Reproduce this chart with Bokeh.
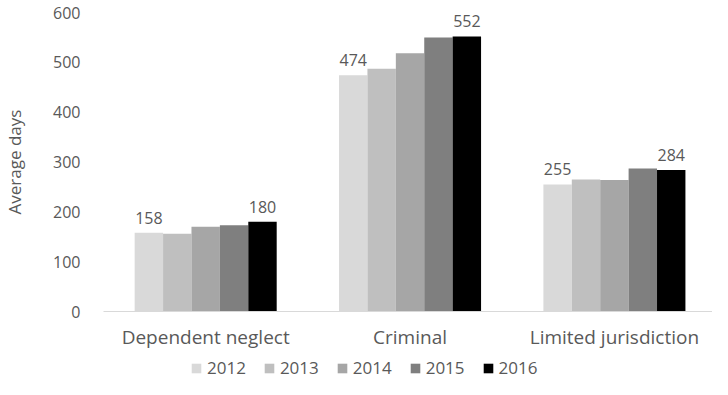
from bokeh.plotting import figure
from bokeh.layouts import column
from bokeh.models import Range1d, FixedTicker, Legend, LegendItem, ColumnDataSource
from bokeh.core.properties import value
from bokeh.embed import file_html
from bokeh.resources import INLINE

categories = ["Dependent neglect", "Criminal", "Limited jurisdiction"]
years = ["2012", "2013", "2014", "2015", "2016"]
v2012 = [158, 474, 255]
v2013 = [156, 487, 265]
v2014 = [170, 518, 264]
v2015 = [173, 550, 287]
v2016 = [180, 552, 284]
y_ticks = [0, 100, 200, 300, 400, 500, 600]

series = [v2012, v2013, v2014, v2015, v2016]
colors = ["#d9d9d9", "#bfbfbf", "#a6a6a6", "#7f7f7f", "#000000"]
labelled = {"2012", "2016"}

FONT = "Open Sans"
TXT = "#595959"

p = figure(width=712, height=352, output_backend="svg", toolbar_location=None,
           x_range=Range1d(0, 2.98), y_range=Range1d(0, 600))
p.min_border_left = 90
p.min_border_right = 0
p.min_border_top = 12
p.min_border_bottom = 40
p.outline_line_color = None
p.xgrid.visible = False
p.ygrid.visible = False
p.background_fill_color = "white"
p.border_fill_color = "white"

# strip below the chart that carries the legend
lg = figure(width=712, height=27, output_backend="svg", toolbar_location=None,
            x_range=Range1d(0, 2.98), y_range=Range1d(0, 600),
            x_axis_location=None, y_axis_location=None)
lg.min_border = 0
lg.outline_line_color = None
lg.xgrid.visible = False
lg.ygrid.visible = False
lg.border_fill_color = "white"
lg.background_fill_color = "white"

bw = 0.139
items = []
for i, (yr, vals, col) in enumerate(zip(years, series, colors)):
    xs = [k + 0.5 + (i - 2) * bw for k in range(len(categories))]
    src = ColumnDataSource(dict(x=xs, top=vals, lab=[str(v) for v in vals]))
    p.vbar(x="x", top="top", width=bw, source=src, fill_color=col, line_color=None)
    if yr in labelled:
        p.text(x="x", y="top", text="lab", source=src, text_font=value(FONT),
               text_font_size="16px", text_color=TXT, text_align="center",
               text_baseline="alphabetic", y_offset=-15)
    # zero-height bars: only supply the legend swatch colour
    r = lg.vbar(x="x", top="top", bottom="top", width=bw, source=src,
                fill_color=col, line_color=None)
    items.append(LegendItem(label=yr, renderers=[r]))

# x axis
xa = p.xaxis[0]
xa.ticker = FixedTicker(ticks=[k + 0.5 for k in range(len(categories))])
xa.major_label_overrides = {k + 0.5: c for k, c in enumerate(categories)}
xa.axis_line_color = "#d9d9d9"
xa.axis_line_width = 1
xa.major_tick_line_color = None
xa.minor_tick_line_color = None
xa.major_label_text_font = FONT
xa.major_label_text_font_size = "19px"
xa.major_label_text_color = TXT
xa.major_label_standoff = 6

# y axis
ya = p.yaxis[0]
ya.ticker = FixedTicker(ticks=y_ticks)
ya.axis_line_color = None
ya.major_tick_line_color = None
ya.minor_tick_line_color = None
ya.major_label_text_font = FONT
ya.major_label_text_font_size = "16px"
ya.major_label_text_color = TXT
ya.major_label_standoff = 17
ya.axis_label = "Average days"
ya.axis_label_text_font = FONT
ya.axis_label_text_font_size = "17px"
ya.axis_label_text_font_style = "normal"
ya.axis_label_text_color = TXT
ya.axis_label_standoff = 24

legend = Legend(items=items, orientation="horizontal", location=(87, 0))
legend.label_text_font = FONT
legend.label_text_font_size = "17px"
legend.label_text_color = TXT
legend.label_height = 18
legend.glyph_width = 12
legend.glyph_height = 12
legend.label_standoff = 5
legend.spacing = 17
legend.padding = 0
legend.margin = 0
legend.border_line_color = None
legend.background_fill_alpha = 0
lg.add_layout(legend)

layout = column(p, lg, spacing=0)
open("out.html", "w").write(file_html(layout, INLINE))
